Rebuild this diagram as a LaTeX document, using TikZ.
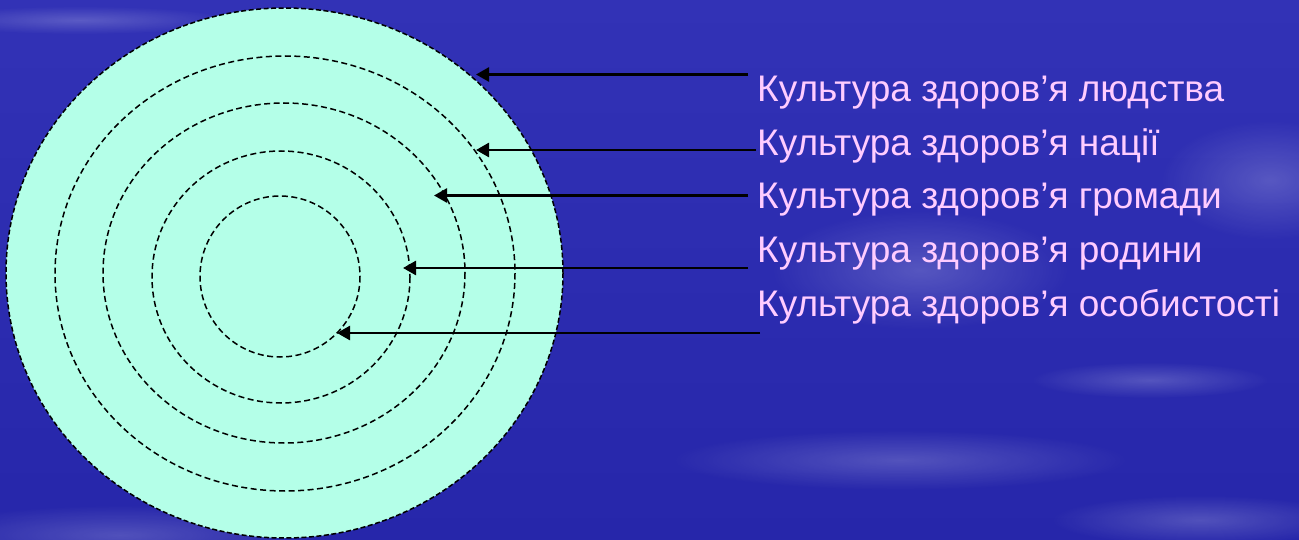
\documentclass[tikz,border=0pt]{standalone}
\usepackage{fontspec}
\setmainfont{Liberation Sans}
\usetikzlibrary{arrows.meta,fadings}
\definecolor{bgtop}{RGB}{50,50,182}
\definecolor{bgbot}{RGB}{38,38,170}
\definecolor{disc}{RGB}{180,255,232}
\definecolor{labelpink}{RGB}{255,204,255}
\tikzfading[name=softcloud, inner color=transparent!0, outer color=transparent!100]
\tikzset{
  ring/.style={draw=black, line width=1.5pt, dash pattern=on 6pt off 3.5pt},
  pointer/.style={draw=black, line width=2.7pt, -{Triangle[length=13pt,width=14pt]}},
  lbl/.style={anchor=base west, inner sep=0pt, text=labelpink, font=\fontsize{37}{44}\selectfont},
  cloud/.style={fill=white, path fading=softcloud, opacity=0.2}
}
\begin{document}
\begin{tikzpicture}[x=1pt,y=-1pt]
\useasboundingbox (0,0) rectangle (1299,540);
% background
\shade[top color=bgtop, bottom color=bgbot] (0,0) rectangle (1299,540);
\clip (0,0) rectangle (1299,540);
\fill[cloud] (120,535) ellipse (200 and 30);
\fill[cloud] (920,270) ellipse (150 and 60);
\fill[cloud] (1270,180) ellipse (110 and 60);
\fill[cloud] (900,460) ellipse (230 and 30);
\fill[cloud] (1200,520) ellipse (150 and 25);
\fill[cloud] (1150,380) ellipse (120 and 18);
\fill[cloud] (80,20) ellipse (150 and 14);
% disc and rings
\fill[disc] (284.5,273) ellipse (278.5 and 265);
\draw[ring, dash pattern=on 5pt off 2.5pt] (284.5,273) ellipse (278.5 and 265);
\draw[ring] (285,273.5) ellipse (230 and 217.5);
\draw[ring] (284,273) ellipse (181 and 170);
\draw[ring] (281,277) ellipse (129 and 126);
\draw[ring] (280,276.5) ellipse (80 and 80.5);
% labels
\node[lbl] (l1) at (757,101.5) {Культура здоров’я людства};
\node[lbl] (l2) at (757,156) {Культура здоров’я нації};
\node[lbl] (l3) at (757,209) {Культура здоров’я громади};
\node[lbl] (l4) at (757,263) {Культура здоров’я родини};
\node[lbl] (l5) at (757,316.5) {Культура здоров’я особистості};
% arrow ends
\coordinate (s1) at (748,74.5);
\coordinate (t1) at (476,74.5);
\coordinate (s2) at (756,150);
\coordinate (t2) at (476,150);
\coordinate (s3) at (748,195.5);
\coordinate (t3) at (434,195.5);
\coordinate (s4) at (748,268);
\coordinate (t4) at (403,268);
\coordinate (s5) at (760,333);
\coordinate (t5) at (337,333);
\draw[pointer] (s1) -- (t1);
\draw[pointer] (s2) -- (t2);
\draw[pointer] (s3) -- (t3);
\draw[pointer] (s4) -- (t4);
\draw[pointer] (s5) -- (t5);
\end{tikzpicture}
\end{document}
